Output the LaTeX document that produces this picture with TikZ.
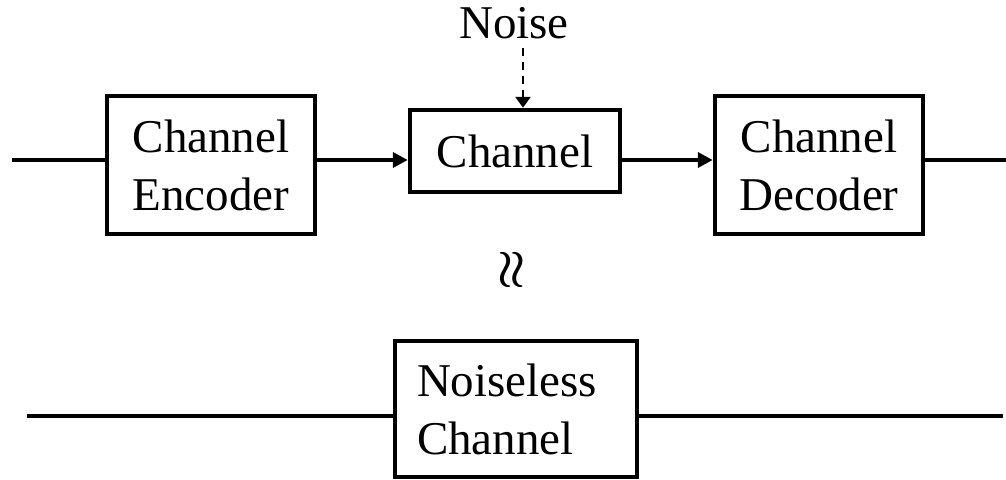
\documentclass[tikz,border=0pt]{standalone}
\usepackage{fontspec}
\setmainfont{Liberation Serif}
\usetikzlibrary{arrows.meta}

\tikzset{
  block/.style = {draw=black, line width=4.5pt, inner sep=0pt, font=\fontsize{47}{58}\selectfont},
  wire/.style = {black, line width=4.5pt},
  feed/.style = {wire, -{Triangle[length=15pt,width=15pt]}},
  noisefeed/.style = {black, line width=2.6pt, dash pattern=on 8pt off 6pt, -{Triangle[length=11pt,width=15pt]}}
}

\begin{document}
\begin{tikzpicture} [x = 1pt, y = -1pt]
\useasboundingbox (0, 0) rectangle (1006, 479);
% upper chain
\node[block, minimum width=208pt, minimum height=138pt, align=center] (enc) at (211, 165){Channel\\Encoder};
\node[block, minimum width=210pt, minimum height=82pt] (chan) at (515, 151){Channel};
\node[block, minimum width=208pt, minimum height=138pt, align=center] (dec) at (819, 165){Channel\\Decoder};
\node[black, anchor=base, inner sep=0pt, font=\fontsize{47}{58}\selectfont] (noise) at (514, 38){Noise};
\coordinate (in) at (12, 160);
\coordinate (out) at (1006, 160);
\draw[wire] (in) -- (enc.west |- in);
\draw[feed] (enc.east |- in) -- (chan.west |- in);
\draw[feed] (chan.east |- in) -- (dec.west |- in);
\draw[wire] (dec.east |- out) -- (out);
\draw[noisefeed, shorten <=9pt] ([xshift=9pt]noise.south) -- ([xshift=8pt]chan.north);
% equivalence
\node[black, rotate=90, scale=4.6, transform shape, inner sep=0pt, font=\boldmath] (equiv) at (513, 270){$\approx$};
% lower chain
\node[block, minimum width=242pt, minimum height=136pt, text width=198pt, align=left] (clean) at (516, 409){Noiseless\\Channel};
\coordinate (cin) at (27, 416);
\coordinate (cout) at (1003, 416);
\draw[wire] (cin) -- (clean.west |- cin);
\draw[wire] (clean.east |- cout) -- (cout);
\end{tikzpicture}
\end{document}
